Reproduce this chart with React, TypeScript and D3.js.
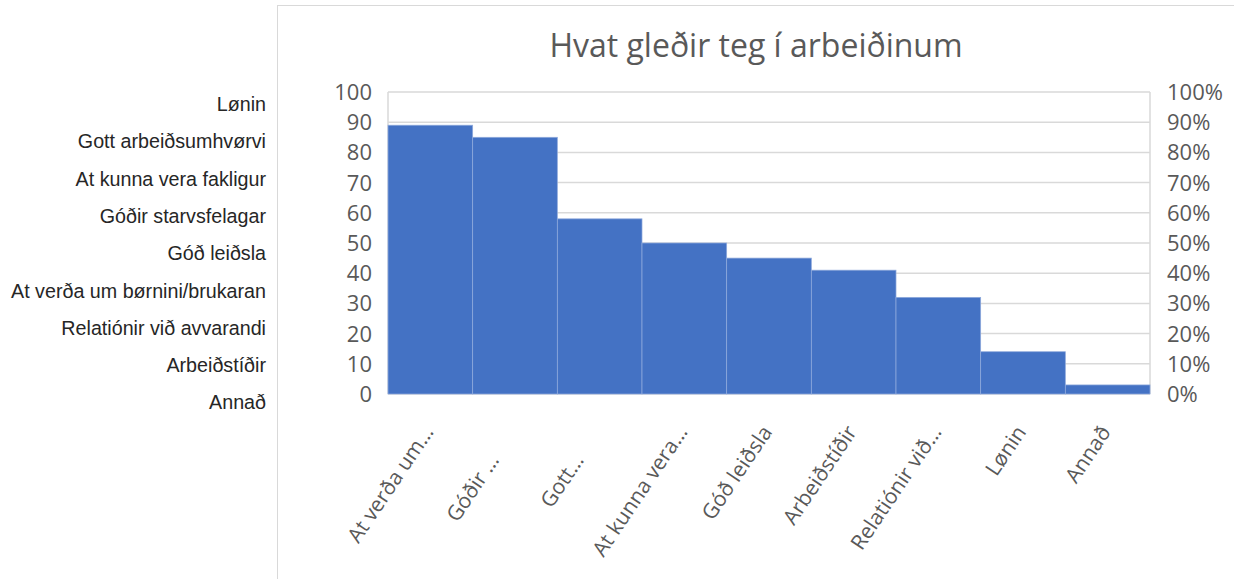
import React from 'react'
import * as d3 from 'd3'

// bar categories (sorted, as on the x axis) and their counts
const categories = ['At verða um børnini/brukaran', 'Góðir starvsfelagar', 'Gott arbeiðsumhvørvi', 'At kunna vera fakligur', 'Góð leiðsla', 'Arbeiðstíðir', 'Relatiónir við avvarandi', 'Lønin', 'Annað']
const shortLabels = ['At verða um…', 'Góðir …', 'Gott…', 'At kunna vera…', 'Góð leiðsla', 'Arbeiðstíðir', 'Relatiónir við…', 'Lønin', 'Annað']
// the two wrapped labels sit further back along the text line
const labelShift = [0, -34, -34, 0, 0, 0, 0, 0, 0]
const values = [89, 85, 58, 50, 45, 41, 32, 14, 3]
const leftTicks = [0, 10, 20, 30, 40, 50, 60, 70, 80, 90, 100]
const rightTicks = [0, 0.1, 0.2, 0.3, 0.4, 0.5, 0.6, 0.7, 0.8, 0.9, 1]
// list shown left of the chart box
const sideList = ['Lønin', 'Gott arbeiðsumhvørvi', 'At kunna vera fakligur', 'Góðir starvsfelagar', 'Góð leiðsla', 'At verða um børnini/brukaran', 'Relatiónir við avvarandi', 'Arbeiðstíðir', 'Annað']

const W = 1234
const H = 579
const plot = { left: 388, right: 1150, top: 92, bottom: 394 }
const font = '"Open Sans", sans-serif'
const gray = '#595959'

export default function App() {
  const x = d3.scaleBand().domain(categories).range([plot.left, plot.right]).padding(0)
  const y = d3.scaleLinear().domain([0, 100]).range([plot.bottom, plot.top])
  const yPct = d3.scaleLinear().domain([0, 1]).range([plot.bottom, plot.top])
  const pct = d3.format('.0%')

  return (
    <svg width={W} height={H} style={{ position: 'absolute', left: 0, top: 0, background: '#fff' }}>
      {/* side list */}
      {sideList.map((s, i) => (
        <text key={s} x={266} y={111 + i * 37.3} textAnchor="end" fontFamily='"Liberation Sans", Arial, sans-serif' fontSize={19.7} fill="#262626">{s}</text>
      ))}

      {/* chart box */}
      <rect x={277.5} y={5.5} width={W} height={H} fill="none" stroke="#d9d9d9" />

      <text x={756} y={57} textAnchor="middle" fontFamily={font} fontSize={32} fill={gray}>Hvat gleðir teg í arbeiðinum</text>

      {/* gridlines */}
      {leftTicks.map(t => (
        <line key={t} x1={plot.left} x2={plot.right} y1={y(t)} y2={y(t)} stroke="#d9d9d9" strokeWidth={1.5} />
      ))}
      <line x1={plot.left} x2={plot.left} y1={plot.top} y2={plot.bottom} stroke="#d9d9d9" strokeWidth={1.5} />
      <line x1={plot.right} x2={plot.right} y1={plot.top} y2={plot.bottom} stroke="#d9d9d9" strokeWidth={1.5} />

      {/* bars */}
      {categories.map((c, i) => (
        <rect key={c} x={x(c)} y={y(values[i])} width={x.bandwidth()} height={y(0) - y(values[i])} fill="#4472c4" stroke="#8faadc" strokeWidth={0.75} />
      ))}

      {/* left axis labels */}
      {leftTicks.map(t => (
        <text key={t} x={372} y={y(t) + 8} textAnchor="end" fontFamily={font} fontSize={22} fill={gray}>{t}</text>
      ))}
      {/* right axis labels */}
      {rightTicks.map(t => (
        <text key={t} x={1167} y={yPct(t) + 8} textAnchor="start" fontFamily={font} fontSize={22} fill={gray}>{pct(t)}</text>
      ))}

      {/* x labels */}
      {categories.map((c, i) => {
        const cx = (x(c) as number) + x.bandwidth() / 2 + 4
        const cy = 432
        return (
          <text key={c} transform={`translate(${cx},${cy}) rotate(-56)`} dx={labelShift[i]} textAnchor="end" fontFamily={font} fontSize={21} fill={gray}>{shortLabels[i]}</text>
        )
      })}
    </svg>
  )
}
